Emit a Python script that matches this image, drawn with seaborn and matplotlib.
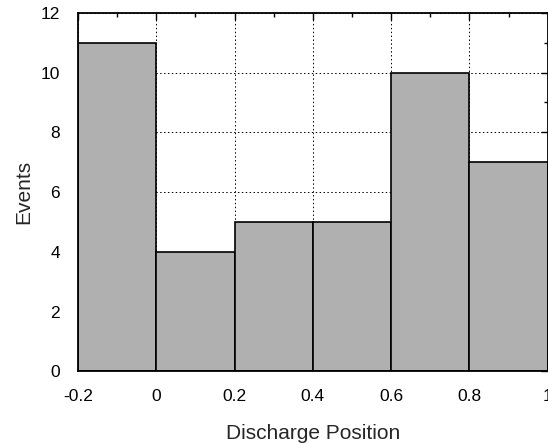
import numpy as np
import pandas as pd
import matplotlib
matplotlib.use('Agg')
import matplotlib.pyplot as plt
import seaborn as sns

# bin edges and counts
bin_edges = [-0.2, 0.0, 0.2, 0.4, 0.6, 0.8, 1.0]
events = [11, 4, 5, 5, 10, 7]
x_ticks = [-0.2, 0, 0.2, 0.4, 0.6, 0.8, 1]
x_tick_labels = ['-0.2', '0', '0.2', '0.4', '0.6', '0.8', '1']
y_ticks = [0, 2, 4, 6, 8, 10, 12]

sns.set_style('white')
plt.rcParams['font.family'] = ['Liberation Sans', 'DejaVu Sans']

centers = [(bin_edges[i] + bin_edges[i + 1]) / 2 for i in range(len(events))]
df = pd.DataFrame({'Discharge Position': centers, 'Events': events})

fig = plt.figure(figsize=(5.48, 4.43), dpi=100)
ax = fig.add_axes([0.1425, 0.162, 0.857, 0.809])

sns.histplot(data=df, x='Discharge Position', weights='Events', bins=bin_edges,
             color='#b0b0b0', alpha=1, edgecolor='black', linewidth=1.2, ax=ax, zorder=2)

ax.set_xlim(-0.2, 1.0)
ax.set_ylim(0, 12)
ax.set_xticks(x_ticks)
ax.set_xticklabels(x_tick_labels)
ax.set_yticks(y_ticks)
ax.set_xticks(np.arange(-0.2, 1.01, 0.1), minor=True)
ax.set_yticks(np.arange(0, 12.1, 1), minor=True)
ax.tick_params(which='both', direction='in', top=True, right=True, labelsize=12.5, colors='black')
ax.tick_params(which='major', length=5, width=1)
ax.tick_params(which='minor', length=3, width=1)
ax.tick_params(axis='x', pad=13)
ax.tick_params(axis='y', pad=13)
ax.grid(True, which='major', color='black', linestyle=(0, (1.5, 2.5)), linewidth=0.7, zorder=1)
ax.set_axisbelow(True)
for s in ax.spines.values():
    s.set_color('black')
    s.set_linewidth(1.3)

ax.set_xlabel('Discharge Position', fontsize=15, labelpad=14)
ax.set_ylabel('Events', fontsize=15, labelpad=5)

plt.savefig('out.png', dpi=100)
